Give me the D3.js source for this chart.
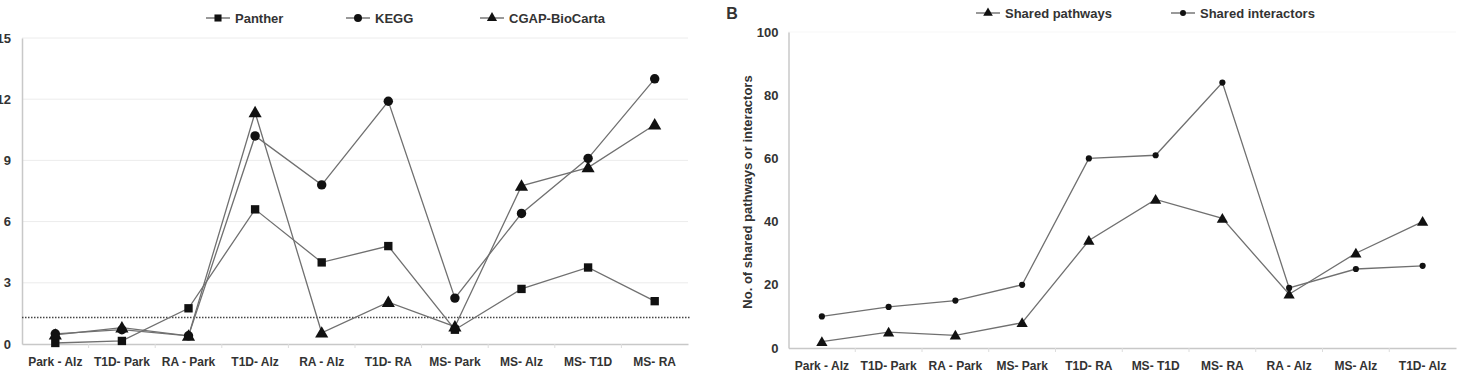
<!DOCTYPE html>
<html>
<head>
<meta charset="utf-8">
<script src="https://cdn.jsdelivr.net/npm/d3@7/dist/d3.min.js"></script>
<style>
  body { margin: 0; background: #fff; }
  svg text { font-family: "Liberation Sans", Arial, sans-serif; font-weight: bold; fill: #333; }
</style>
</head>
<body>
<svg id="chart"></svg>
<script>
// panel A data
const pairsA = ["Park - Alz", "T1D- Park", "RA - Park", "T1D- Alz", "RA - Alz", "T1D- RA", "MS- Park", "MS- Alz", "MS- T1D", "MS- RA"];
const panther = [0.05, 0.15, 1.75, 6.6, 4.0, 4.8, 0.7, 2.7, 3.75, 2.1];
const kegg = [0.5, 0.7, 0.4, 10.2, 7.8, 11.9, 2.25, 6.4, 9.1, 13.0];
const cgap = [0.45, 0.8, 0.4, 11.35, 0.55, 2.05, 0.85, 7.75, 8.65, 10.75];
const ticksA = [0, 3, 6, 9, 12, 15];
const thresholdA = 1.3;

// panel B data
const pairsB = ["Park - Alz", "T1D- Park", "RA - Park", "MS- Park", "T1D- RA", "MS- T1D", "MS- RA", "RA - Alz", "MS- Alz", "T1D- Alz"];
const sharedPathways = [2, 5, 4, 8, 34, 47, 41, 17, 30, 40];
const sharedInteractors = [10, 13, 15, 20, 60, 61, 84, 19, 25, 26];
const ticksB = [0, 20, 40, 60, 80, 100];

const W = 1457, H = 377;
const svg = d3.select("#chart").attr("width", W).attr("height", H);

function drawPanel(cfg) {
  const x = d3.scaleBand().domain(cfg.cats).range([cfg.left, cfg.right]);
  const y = d3.scaleLinear().domain([0, cfg.ticks[cfg.ticks.length - 1]]).range([cfg.bottom, cfg.top]);
  const g = svg.append("g");

  // gridlines
  if (cfg.grid) {
    g.selectAll(".grid").data(cfg.ticks.slice(1)).join("line")
      .attr("x1", cfg.left).attr("x2", cfg.right)
      .attr("y1", d => y(d)).attr("y2", d => y(d))
      .attr("stroke", "#ececec").attr("stroke-width", 1);
  } else {
    g.append("line")
      .attr("x1", cfg.left).attr("x2", cfg.right)
      .attr("y1", y(cfg.ticks[cfg.ticks.length - 1])).attr("y2", y(cfg.ticks[cfg.ticks.length - 1]))
      .attr("stroke", "#eee").attr("stroke-dasharray", "1,1");
  }

  // y axis
  const yAxis = d3.axisLeft(y).tickValues(cfg.ticks).tickSize(0).tickPadding(cfg.yPad);
  g.append("g").attr("transform", `translate(${cfg.left},0)`).call(yAxis)
    .call(a => a.select(".domain").attr("stroke", "#c8c8c8").attr("stroke-width", 1.5))
    .call(a => a.selectAll("text").attr("font-size", 13).attr("font-family", "Liberation Sans, Arial").attr("font-weight", "bold").attr("fill", "#333"));

  // x axis
  const xAxis = d3.axisBottom(x).tickSize(0).tickPadding(13);
  const xg = g.append("g").attr("transform", `translate(0,${cfg.bottom})`).call(xAxis);
  xg.select(".domain").attr("stroke", "#c8c8c8").attr("stroke-width", 1.5);
  xg.selectAll("text").attr("font-size", 12).attr("font-family", "Liberation Sans, Arial").attr("font-weight", "bold").attr("fill", "#333");
  // separators between categories
  xg.selectAll(".sep").data(cfg.cats.slice(1)).join("line")
    .attr("x1", d => x(d)).attr("x2", d => x(d))
    .attr("y1", 0).attr("y2", 4).attr("stroke", "#ddd");

  if (cfg.threshold !== undefined) {
    g.append("line")
      .attr("x1", cfg.left).attr("x2", cfg.right + 2)
      .attr("y1", y(cfg.threshold)).attr("y2", y(cfg.threshold))
      .attr("stroke", "#444").attr("stroke-width", 1.4).attr("stroke-dasharray", "1.5,1.5");
  }

  const line = d3.line().x((d, i) => x(cfg.cats[i]) + x.bandwidth() / 2).y(d => y(d));
  cfg.series.forEach(s => {
    g.append("path").datum(s.values).attr("d", line)
      .attr("fill", "none").attr("stroke", "#707070").attr("stroke-width", 1.3);
  });
  cfg.series.forEach(s => {
    g.selectAll(null).data(s.values).join("path")
      .attr("d", d3.symbol().type(s.symbol).size(s.size))
      .attr("transform", (d, i) => `translate(${x(cfg.cats[i]) + x.bandwidth() / 2},${y(d) + (s.symbol === d3.symbolTriangle ? 1 : 0)})`)
      .attr("fill", "#111");
  });

  // legend
  cfg.series.forEach(s => {
    const lg = g.append("g").attr("transform", `translate(${s.legendX},${cfg.legendY})`);
    lg.append("line").attr("x1", -12).attr("x2", 12).attr("stroke", "#555").attr("stroke-width", 1.2);
    lg.append("path").attr("d", d3.symbol().type(s.symbol).size(s.legendSize)).attr("fill", "#111");
    lg.append("text").attr("x", 17).attr("dy", "0.35em").attr("font-size", 13).text(s.name);
  });
}

drawPanel({
  cats: pairsA, ticks: ticksA, left: 22, right: 688, top: 38, bottom: 344, grid: true, yPad: 11,
  threshold: thresholdA, legendY: 18,
  series: [
    { name: "Panther", values: panther, symbol: d3.symbolSquare, size: 70, legendX: 218, legendSize: 50 },
    { name: "KEGG", values: kegg, symbol: d3.symbolCircle, size: 70, legendX: 358, legendSize: 50 },
    { name: "CGAP-BioCarta", values: cgap, symbol: d3.symbolTriangle, size: 75, legendX: 492, legendSize: 45 }
  ]
});

drawPanel({
  cats: pairsB, ticks: ticksB, left: 788.5, right: 1456, top: 32, bottom: 348, grid: false, yPad: 10,
  legendY: 13,
  series: [
    { name: "Shared pathways", values: sharedPathways, symbol: d3.symbolTriangle, size: 55, legendX: 988, legendSize: 40 },
    { name: "Shared interactors", values: sharedInteractors, symbol: d3.symbolCircle, size: 30, legendX: 1183, legendSize: 28 }
  ]
});

svg.append("text").attr("x", 732).attr("y", 19).attr("font-size", 16).attr("font-weight", "normal")
  .attr("text-anchor", "middle").text("B");

svg.append("text")
  .attr("transform", "translate(752,192) rotate(-90)")
  .attr("text-anchor", "middle").attr("font-size", 13)
  .text("No. of shared pathways or interactors");
</script>
</body>
</html>
